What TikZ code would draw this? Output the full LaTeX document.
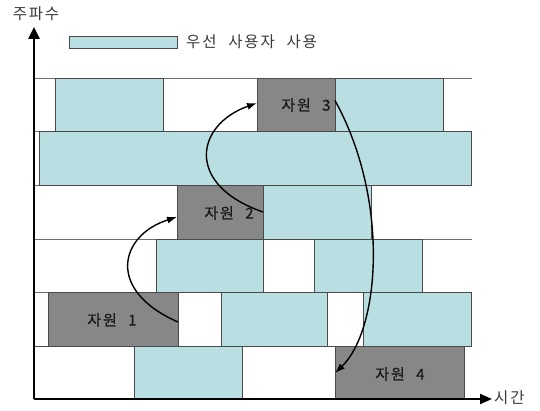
\documentclass[tikz,border=0pt]{standalone}
\usepackage{fontspec}
\setmainfont{Noto Sans CJK KR}[WordSpace=2.2,LetterSpace=12]
\newfontfamily\krheavy{Noto Sans CJK KR}[WordSpace=2.2,LetterSpace=12,FakeBold=0.6]
\usetikzlibrary{arrows.meta}
\definecolor{blu}{HTML}{B9DFE2}
\definecolor{gry}{HTML}{878787}
\definecolor{edge}{HTML}{4A4A4A}
\definecolor{txt}{HTML}{3A3A3A}
\newcommand\cellbox[7][]{\node[#2, #1, minimum width={(#6-#4)*1pt}, minimum height={(#7-#5)*1pt}] (#3) at (#4,#5) {};}
\begin{document}
\begin{tikzpicture}[x=1pt,y=-1pt,
  cell/.style={draw=edge, line width=0.8pt, anchor=north west, inner sep=0pt, outer sep=0pt},
  pu/.style={cell, fill=blu},
  res/.style={cell, fill=gry},
  free/.style={cell, fill=white},
  reslbl/.style={font=\krheavy\fontsize{15}{15}\selectfont, text=black!90, inner sep=0pt},
  lbl/.style={font=\fontsize{15.5}{15.5}\selectfont, text=txt, inner sep=0pt},
  grid/.style={draw=edge!80, line width=0.8pt},
  hop/.style={line width=1.4pt, -{Latex[length=10pt,width=7pt]}},
  yaxis/.style={line width=2.6pt, -{Triangle[length=12pt,width=11pt]}},
  xaxis/.style={line width=2pt, -{Triangle[length=12pt,width=10pt]}},
]
\fill[white] (0,0) rectangle (540,411);
\useasboundingbox (0,0) rectangle (540,411);

% row boundaries
\foreach \yy in {78,131,185,239,292,346} {\draw[grid] (34,\yy) -- (472,\yy);}

% row 1
\cellbox{pu}{b11}{55}{78}{163}{131}
\cellbox{res}{r3}{257}{78}{335}{131}
\cellbox{pu}{b12}{335}{78}{443}{131}
% row 2
\cellbox{pu}{b21}{39}{131}{471}{185}
% row 3
\cellbox{res}{r2}{177}{185}{263}{239}
\cellbox{pu}{b31}{263}{185}{371}{239}
% row 4
\cellbox{pu}{b41}{156}{239}{263}{292}
\cellbox{pu}{b42}{314}{239}{422}{292}
% row 5
\cellbox{res}{r1}{48}{292}{178}{346}
\cellbox{free}{f51}{178}{292}{221}{346}
\cellbox{pu}{b51}{221}{292}{327}{346}
\cellbox{free}{f52}{327}{292}{363}{346}
\cellbox{pu}{b52}{363}{292}{471}{346}
% row 6
\cellbox{free}{f61}{34}{346}{134}{399}
\cellbox{pu}{b61}{134}{346}{242}{399}
\cellbox{free}{f62}{242}{346}{335}{399}
\cellbox{res}{r4}{335}{346}{464}{399}

% resource labels
\node[reslbl] (t1) at (112,320) {자원 1};
\node[reslbl] (t2) at (229,213) {자원 2};
\node[reslbl] (t3) at (306,105) {자원 3};
\node[reslbl] (t4) at (400,374) {자원 4};

% legend
\cellbox{pu}{lg}{69}{36}{177}{48}
\node[lbl, anchor=west] (lgt) at (186,42) {우선 사용자 사용};

% axes
\coordinate (o) at (34,399);
\coordinate (ytop) at (34,27);
\coordinate (xend) at (492,399);
\draw[yaxis] (o) -- (ytop);
\draw[xaxis] (o) -- (xend);
\node[lbl] (fq) at (36,14) {주파수};
\node[lbl, anchor=west] (tm) at (494,398) {시간};

% hops
\draw[hop] ([yshift=-3pt]r1.east) .. controls (105,290) and (120,235) .. ([yshift=-5pt]r2.west);
\draw[hop] (r2.east) .. controls (185,185) and (195,125) .. ([yshift=1.5pt]r3.west);
\draw[hop] ([yshift=4pt]r3.east) .. controls (390,200) and (380,330) .. ([yshift=-0.5pt]r4.west);
\end{tikzpicture}
\end{document}
